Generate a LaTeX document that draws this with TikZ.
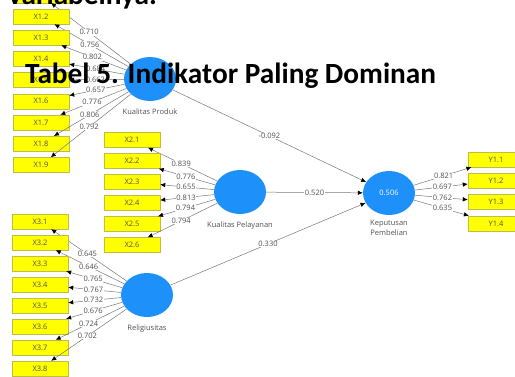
\documentclass[tikz,border=0pt]{standalone}
\usepackage{fontspec}
\setmainfont{Open Sans}
\newfontfamily\titleFont{Carlito}
\usetikzlibrary{positioning,shapes.geometric,arrows.meta}
\definecolor{boxColor}{RGB}{255,255,0}
\definecolor{boxBorderColor}{RGB}{190,190,70}
\definecolor{latentColor}{RGB}{30,144,250}
\definecolor{lineColor}{RGB}{120,120,120}
\definecolor{textColor}{RGB}{80,80,80}
\tikzstyle{diagram} = [x = 1pt, y = -1pt]
\tikzstyle{indicatorBox} = [draw=boxBorderColor, fill=boxColor, minimum width=56pt, minimum height=15pt, inner sep=0pt, text=textColor, font=\fontsize{7.5}{8}\selectfont]
\tikzstyle{latentNode} = [ellipse, fill=latentColor, minimum width=52pt, minimum height=44pt, inner sep=0pt, text=white, font=\fontsize{7.5}{8}\selectfont]
\tikzstyle{latentName} = [text=textColor, font=\fontsize{7.5}{9.5}\selectfont, align=center, inner sep=1pt]
\tikzstyle{arrowLine} = [color=lineColor, line width=0.5pt, -{Latex[length=5pt, width=4.5pt, color=black]}]
\tikzstyle{weightText} = [fill=white, inner sep=0.6pt, text=textColor, font=\fontsize{7.5}{8}\selectfont]
\tikzstyle{titleText} = [font=\titleFont\bfseries\fontsize{29.3}{35}\selectfont, inner sep=0pt]
% one column of indicators with their loadings
\newcommand{\indicatorSet}[6]{
  \foreach \n/\w [count=\k from 0] in {#6} {
    \pgfmathsetmacro{\yPos}{#4 + #5 * \k}
    \node [indicatorBox] (#2-\n) at (#3, \yPos) {#2.\n};
    \draw [arrowLine] (#1) -- node [weightText, pos=0.52] {\w} (#2-\n);
  }
}

\begin{document}
\begin{tikzpicture}[diagram]
  \useasboundingbox (0,0) rectangle (515,376);
  \clip (0,0) rectangle (515,376);
  \node [latentNode] (produk) at (150,79) {};
  \node [latentNode] (pelayanan) at (240,192) {};
  \node [latentNode] (religiusitas) at (147,295) {};
  \node [latentNode] (keputusan) at (389,193) {0.506};
  \node [latentName, below=6pt of produk] (produkName) {Kualitas Produk};
  \node [latentName, below=6pt of pelayanan] (pelayananName) {Kualitas Pelayanan};
  \node [latentName, below=6pt of religiusitas] (religiusitasName) {Religiusitas};
  \node [latentName, below=4pt of keputusan] (keputusanName) {Keputusan\\Pembelian};

  % first box lies above the cut
  \node [indicatorBox] (X1-1) at (41,-4.7) {};
  \draw [arrowLine] (produk) -- node [weightText, pos=0.52] {0.710} (X1-1);
  \indicatorSet{produk}{X1}{41}{16.5}{21.2}{2/0.756, 3/0.802, 4/0.684, 5/0.663, 6/0.657, 7/0.776, 8/0.806, 9/0.792}
  \indicatorSet{pelayanan}{X2}{132}{140}{21}{1/0.839, 2/0.776, 3/0.655, 4/0.813, 5/0.794, 6/0.794}
  \indicatorSet{religiusitas}{X3}{40}{221.5}{21}{1/0.645, 2/0.646, 3/0.765, 4/0.767, 5/0.732, 6/0.676, 7/0.724, 8/0.702}
  \indicatorSet{keputusan}{Y1}{496}{159.5}{21.3}{1/0.821, 2/0.697, 3/0.762, 4/0.635}

  \draw [arrowLine] (produk) -- node [weightText, pos=0.5] {-0.092} (keputusan);
  \draw [arrowLine] (pelayanan) -- node [weightText, pos=0.5] {0.520} (keputusan);
  \draw [arrowLine] (religiusitas) -- node [weightText, pos=0.5] {0.330} (keputusan);

  \node [titleText, anchor=base west] (title) at (25,83.5) {Tabel 5. Indikator Paling Dominan};
  \node [titleText, anchor=base east] (intro) at (157,4) {variabelnya.};
\end{tikzpicture}
\end{document}
